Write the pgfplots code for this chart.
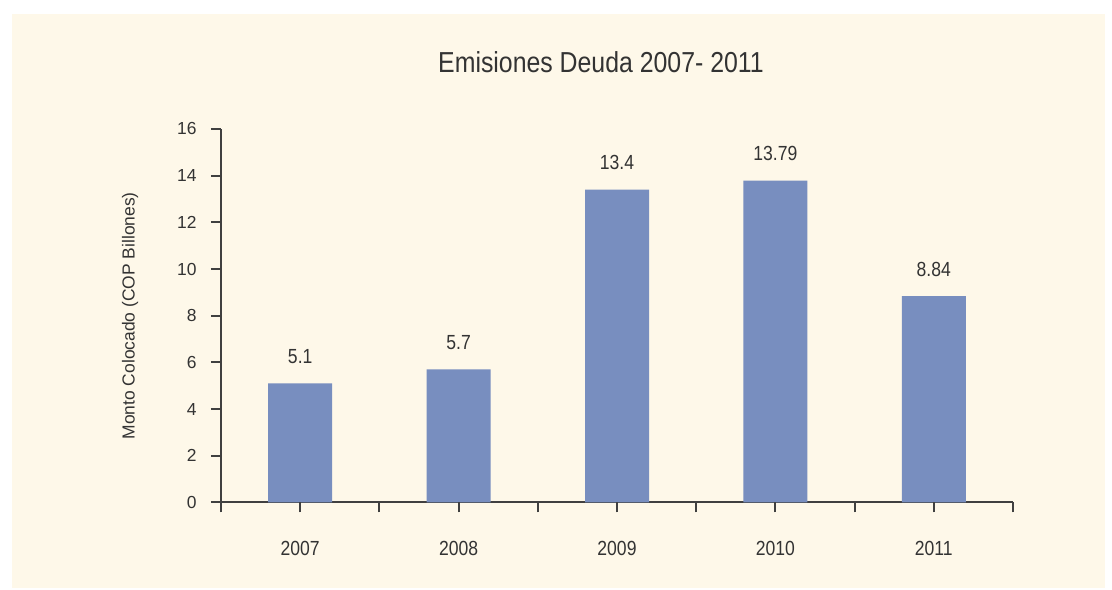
\documentclass[border=0pt]{standalone}
\usepackage{fontspec}
\setmainfont{Liberation Sans}
\newfontfamily\condfont{Liberation Sans}[FakeStretch=0.86]
\usepackage{pgfplots}
\pgfplotsset{compat=1.18}
\definecolor{panel}{HTML}{FEF8E9}
\definecolor{barblue}{HTML}{788EBF}
\definecolor{ink}{HTML}{333333}

\begin{document}
\begin{tikzpicture}
% page and cream panel
\fill[white] (0bp,0bp) rectangle (1112bp,590bp);
\fill[panel] (12bp,2bp) rectangle (1105bp,576bp);
\node[font=\condfont\fontsize{29}{34}\selectfont, text=ink, anchor=base, inner sep=0pt]
  at (601bp,517bp) {Emisiones Deuda 2007- 2011};
\begin{axis}[
  at={(221bp,87.5bp)}, anchor=south west,
  scale only axis, width=792bp, height=373.5bp,
  xmin=-0.5, xmax=4.5, ymin=0, ymax=16,
  clip=false,
  ybar, bar width=64bp,
  axis x line=bottom, axis y line=left,
  axis line style={-, color=darkgray, line width=2bp},
  tick align=outside,
  major tick length=10bp,
  tick style={color=darkgray, line width=2bp},
  xtick={-0.5,0,0.5,1,1.5,2,2.5,3,3.5,4,4.5},
  xticklabels={,2007,,2008,,2009,,2010,,2011,},
  ytick={0,2,...,16},
  /pgf/number format/assume math mode=true,
  xticklabel style={font=\condfont\fontsize{20.5}{24}\selectfont, text=ink, yshift=-25bp},
  yticklabel style={font=\fontsize{17.5}{21}\selectfont, text=ink, xshift=-11bp},
  ylabel={Monto Colocado (COP Billones)},
  ylabel style={at={(axis description cs:-0.1149,0.5)}, anchor=center,
    font=\fontsize{17.5}{21}\selectfont, text=ink},
]
\addplot[fill=barblue, draw=none,
  nodes near coords, point meta=explicit symbolic,
  nodes near coords style={font=\condfont\fontsize{20.5}{24}\selectfont, text=ink,
    anchor=base, inner sep=0pt, yshift=20bp}]
  coordinates {(0,5.1)[5.1] (1,5.7)[5.7] (2,13.4)[13.4] (3,13.79)[13.79] (4,8.84)[8.84]};
% tick marks drawn once more in the axis frame so they keep their full weight
\pgfplotsinvokeforeach{-0.5,0,0.5,1,1.5,2,2.5,3,3.5,4,4.5}{
  \draw[color=darkgray, line width=2bp] (axis cs:#1,0) -- ++(0bp,-10bp);
}
\pgfplotsinvokeforeach{0,2,4,6,8,10,12,14,16}{
  \draw[color=darkgray, line width=2bp] (axis cs:-0.5,#1) -- ++(-10bp,0bp);
}
\end{axis}
\end{tikzpicture}
\end{document}
